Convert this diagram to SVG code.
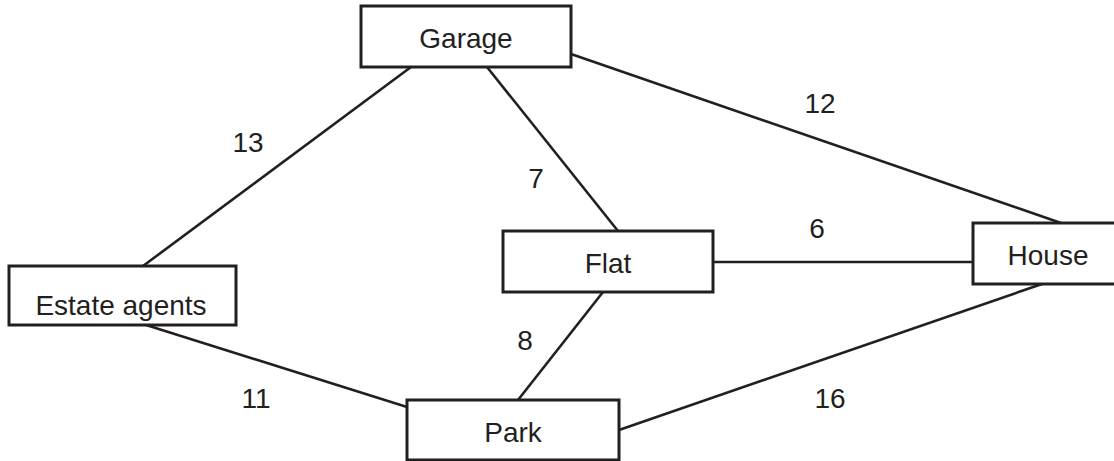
<svg xmlns="http://www.w3.org/2000/svg" width="1114" height="461" viewBox="0 0 1114 461">
<style>
.box{fill:#fff;stroke:#231f20;stroke-width:3}
.edge{stroke:#231f20;stroke-width:2.6;fill:none}
text{font-family:"Liberation Sans",Arial,sans-serif;font-size:28px;fill:#231f20;text-anchor:middle}
</style>
<rect width="1114" height="461" fill="#fff"/>
<g id="connectors">
<line class="edge" x1="143" y1="266" x2="411" y2="67"/>
<line class="edge" x1="487" y1="67" x2="618" y2="231"/>
<line class="edge" x1="571" y1="54" x2="1061" y2="223"/>
<line class="edge" x1="713" y1="262" x2="973" y2="262"/>
<line class="edge" x1="146" y1="325" x2="407" y2="407"/>
<line class="edge" x1="603" y1="292" x2="518" y2="400"/>
<line class="edge" x1="619" y1="430" x2="1042" y2="284"/>
<text x="248" y="152">13</text>
<text x="536" y="188">7</text>
<text x="820" y="113">12</text>
<text x="817" y="238">6</text>
<text x="525" y="350">8</text>
<text x="256" y="408">11</text>
<text x="830" y="408">16</text>
</g>
<g id="garage"><rect class="box" x="361" y="6" width="210" height="61"/><text x="466" y="48">Garage</text></g>
<g id="estate"><rect class="box" x="9" y="266" width="227" height="59"/><text x="121" y="315">Estate agents</text></g>
<g id="flat"><rect class="box" x="503" y="231" width="210" height="61"/><text x="608" y="273">Flat</text></g>
<g id="house"><rect class="box" x="973" y="223" width="145" height="61"/><text x="1048" y="265">House</text></g>
<g id="park"><rect class="box" x="407" y="400" width="212" height="60"/><text x="513" y="442">Park</text></g>
</svg>
